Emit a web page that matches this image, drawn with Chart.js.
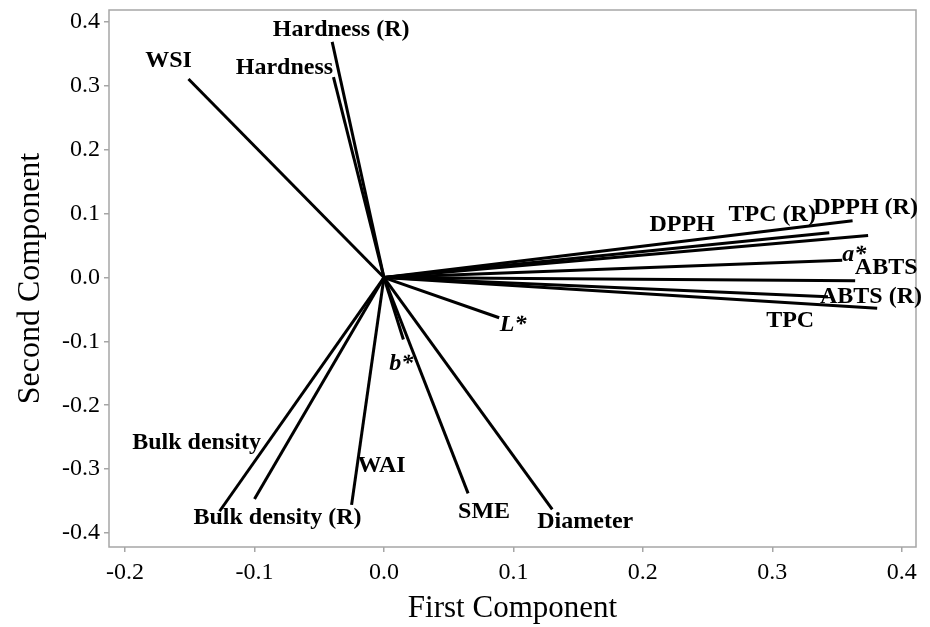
<!DOCTYPE html>
<html>
<head>
<meta charset="utf-8">
<title>Loading Plot</title>
<script src="https://cdn.jsdelivr.net/npm/chart.js@4.4.1/dist/chart.umd.min.js"></script>
<style>
  body { margin: 0; background: #fff; }
  #wrap { width: 930px; height: 627px; }
</style>
</head>
<body>
<div id="wrap"><canvas id="myChart" width="930" height="627"></canvas></div>
<script>
// loadings
let variables = ['WSI', 'Hardness (R)', 'Hardness', 'DPPH (R)', 'TPC (R)', 'DPPH', 'a*', 'ABTS', 'ABTS (R)', 'TPC',
  'L*', 'b*', 'Bulk density', 'Bulk density (R)', 'WAI', 'SME', 'Diameter'];
let firstComp = [-0.151, -0.040, -0.039, 0.362, 0.344, 0.374, 0.354, 0.364, 0.343, 0.381,
  0.089, 0.015, -0.127, -0.100, -0.025, 0.065, 0.130];
let secondComp = [0.311, 0.369, 0.314, 0.089, 0.070, 0.066, 0.027, -0.005, -0.030, -0.048,
  -0.063, -0.097, -0.366, -0.347, -0.356, -0.338, -0.363];
let xTicks = [-0.2, -0.1, 0.0, 0.1, 0.2, 0.3, 0.4];
let yTicks = [-0.4, -0.3, -0.2, -0.1, 0.0, 0.1, 0.2, 0.3, 0.4];

// where each label sits relative to the end of its line (pixels)
let labelPlace = {
  'WSI': [-20, -18], 'Hardness (R)': [9, -12], 'Hardness': [-49, -9],
  'DPPH (R)': [13, -13], 'TPC (R)': [-57, -18], 'DPPH': [-186, -11],
  'a*': [12, -6], 'ABTS': [31, -13], 'ABTS (R)': [43, 0], 'TPC': [-87, 13],
  'L*': [14, 7], 'b*': [-2, 24], 'Bulk density': [-23, -68],
  'Bulk density (R)': [23, 19], 'WAI': [30, -39], 'SME': [16, 18], 'Diameter': [33, 12]
};
let italicLabels = ['a*', 'L*', 'b*'];

let datasets = variables.map(function(name, i) {
  return {
    label: name,
    data: [{x: 0, y: 0}, {x: firstComp[i], y: secondComp[i]}],
    showLine: true,
    borderColor: '#000',
    borderWidth: 3,
    pointRadius: 0,
    pointHoverRadius: 0
  };
});

let frame = {
  id: 'frame',
  afterDatasetsDraw: function(chart) {
    let c = chart.ctx, a = chart.chartArea;
    c.save();
    c.strokeStyle = '#a6a6a6';
    c.lineWidth = 1.5;
    c.strokeRect(a.left, a.top, a.right - a.left, a.bottom - a.top);

    c.fillStyle = '#000';
    c.textAlign = 'center';
    c.textBaseline = 'middle';
    chart.data.datasets.forEach(function(ds, i) {
      let pt = chart.getDatasetMeta(i).data[1];
      let off = labelPlace[ds.label] || [0, 0];
      let ital = italicLabels.indexOf(ds.label) != -1;
      c.font = (ital ? 'italic ' : '') + 'bold 24px "Liberation Serif", "Times New Roman", serif';
      c.fillText(ds.label, pt.x + off[0], pt.y + off[1]);
    });
    c.restore();
  }
};

let ctx = document.getElementById('myChart');
let myChart = new Chart(ctx, {
  type: 'scatter',
  data: { datasets: datasets },
  options: {
    responsive: false,
    animation: false,
    events: [],
    layout: { padding: { top: 10, right: 14, left: 0, bottom: 0 } },
    plugins: { legend: { display: false }, tooltip: { enabled: false } },
    scales: {
      x: {
        min: -0.2124,
        max: 0.411,
        afterFit: function(s) { s.height = 80; s.paddingLeft = 0; s.paddingRight = 0; },
        afterBuildTicks: function(s) { s.ticks = xTicks.map(v => ({value: v})); },
        border: { display: false },
        grid: { drawOnChartArea: false, drawTicks: true, tickLength: 5, color: '#a6a6a6', lineWidth: 1.5 },
        ticks: {
          padding: 6,
          color: '#000',
          font: { family: '"Liberation Serif", "Times New Roman", serif', size: 24 },
          callback: v => v.toFixed(1)
        },
        title: {
          display: true,
          text: 'First Component',
          color: '#000',
          padding: { top: 0, bottom: 0 },
          font: { family: '"Liberation Serif", "Times New Roman", serif', size: 31 }
        }
      },
      y: {
        min: -0.422,
        max: 0.419,
        afterFit: function(s) { s.width = 109; s.paddingTop = 0; s.paddingBottom = 0; },
        afterBuildTicks: function(s) { s.ticks = yTicks.map(v => ({value: v})); },
        border: { display: false },
        grid: { drawOnChartArea: false, drawTicks: true, tickLength: 5, color: '#a6a6a6', lineWidth: 1.5 },
        ticks: {
          padding: 4,
          color: '#000',
          font: { family: '"Liberation Serif", "Times New Roman", serif', size: 24 },
          callback: v => v.toFixed(1)
        },
        title: {
          display: true,
          text: 'Second Component',
          color: '#000',
          padding: { top: 11, bottom: 0 },
          font: { family: '"Liberation Serif", "Times New Roman", serif', size: 32 }
        }
      }
    }
  },
  plugins: [frame]
});
</script>
</body>
</html>
